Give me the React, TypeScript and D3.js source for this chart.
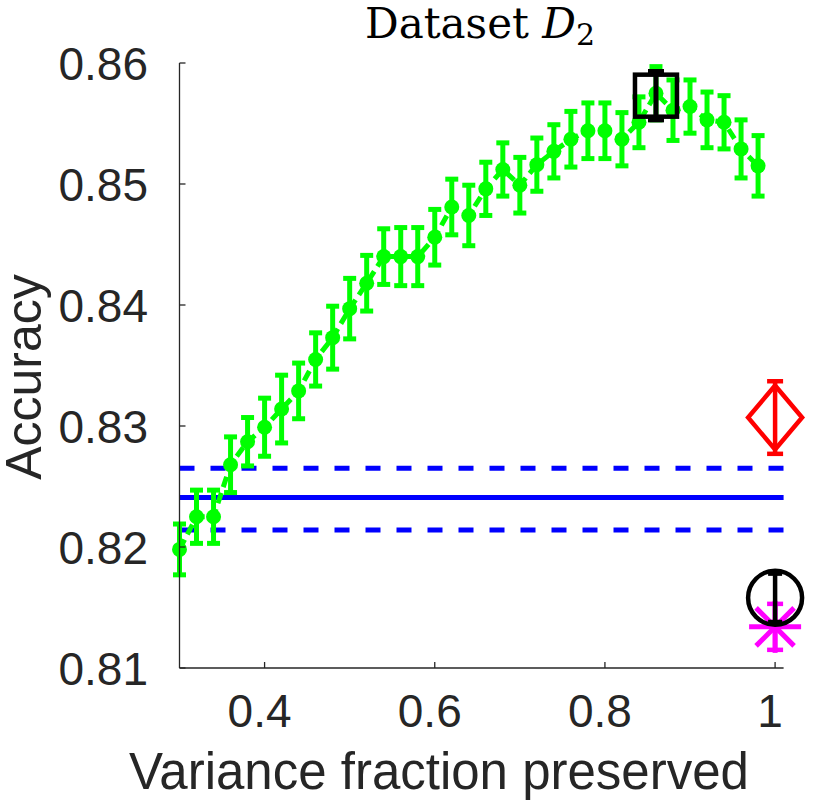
import * as d3 from "d3";

// green series: accuracy vs variance fraction preserved
const fractions = [
  0.3, 0.32, 0.34, 0.36, 0.38, 0.4, 0.42, 0.44, 0.46, 0.48, 0.5, 0.52, 0.54,
  0.56, 0.58, 0.6, 0.62, 0.64, 0.66, 0.68, 0.7, 0.72, 0.74, 0.76, 0.78, 0.8,
  0.82, 0.84, 0.86, 0.88, 0.9, 0.92, 0.94, 0.96, 0.98,
];
const accuracy = [
  0.8198, 0.8225, 0.8225, 0.8268, 0.8287, 0.8299, 0.8314, 0.8329, 0.8355,
  0.8373, 0.8397, 0.8418, 0.844, 0.844, 0.844, 0.8456, 0.8481, 0.8474, 0.8496,
  0.8512, 0.8499, 0.8516, 0.8527, 0.8537, 0.8544, 0.8544, 0.8537, 0.8551,
  0.8575, 0.8561, 0.8564, 0.8553, 0.8551, 0.8529, 0.8515,
];
const accuracyErr = [
  0.0021, 0.0022, 0.0022, 0.0023, 0.002, 0.0024, 0.0028, 0.0023, 0.0022,
  0.0026, 0.0025, 0.0023, 0.0023, 0.0024, 0.0024, 0.0023, 0.0023, 0.0025,
  0.0022, 0.0022, 0.0023, 0.0022, 0.0022, 0.0023, 0.0023, 0.0023, 0.0022,
  0.0021, 0.0022, 0.0025, 0.0022, 0.0023, 0.0022, 0.0024, 0.0025,
];

// baseline (blue): mean and +/- band
const baseline = { mean: 0.8241, upper: 0.8265, lower: 0.8214 };

// single-point methods
const bestPoint = { x: 0.86, y: 0.8573, err: 0.002 }; // black square
const diamondPoint = { x: 1.0, y: 0.8307, err: 0.003 }; // red diamond
const circlePoint = { x: 1.0, y: 0.8158, err: 0.002 }; // black circle
const starPoint = { x: 1.0, y: 0.8134, err: 0.0019 }; // magenta asterisk

const xTicks = [0.4, 0.6, 0.8, 1];
const yTicks = [0.81, 0.82, 0.83, 0.84, 0.85, 0.86];

const width = 830;
const height = 800;
const axisColor = "#262626";
const font = "'Liberation Sans', Arial, Helvetica, sans-serif";

const x = d3.scaleLinear().domain([0.3, 1.01]).range([179.5, 783.6]);
const y = d3.scaleLinear().domain([0.81, 0.86]).range([668, 63]);

const ErrBar = (props: { cx: number; cy: number; err: number; color: string; w: number; cap: number }) => {
  const top = y(props.cy + props.err);
  const bot = y(props.cy - props.err);
  const px = x(props.cx);
  return (
    <g stroke={props.color} strokeWidth={props.w}>
      <line x1={px} x2={px} y1={top} y2={bot} />
      <line x1={px - props.cap / 2} x2={px + props.cap / 2} y1={top} y2={top} />
      <line x1={px - props.cap / 2} x2={px + props.cap / 2} y1={bot} y2={bot} />
    </g>
  );
};

export default function App() {
  const pts = fractions.map((f, i) => ({ f, a: accuracy[i], e: accuracyErr[i] }));
  const line = d3
    .line<{ f: number; a: number }>()
    .x((d) => x(d.f))
    .y((d) => y(d.a));

  const [x0, x1] = x.range();
  const [yb, yt] = y.range();

  const sq = 42;
  const star = { cx: x(starPoint.x), cy: y(starPoint.y), r: 26 };
  const dia = { cx: x(diamondPoint.x), cy: y(diamondPoint.y) };

  return (
    <svg
      width={width}
      height={height}
      viewBox={`0 0 ${width} ${height}`}
      style={{ position: "absolute", left: 0, top: 0, background: "#fff" }}
    >
      {/* title */}
      <text
        x={480}
        y={38}
        textAnchor="middle"
        fontFamily="'DejaVu Serif', 'Liberation Serif', serif"
        fontSize={42}
        fill="#000"
      >
        Dataset <tspan fontStyle="italic">D</tspan>
        <tspan fontSize={30} dy={7}>2</tspan>
      </text>

      {/* baseline band */}
      <g stroke="#0000ff" strokeWidth={5}>
        <line x1={x0} x2={x1} y1={y(baseline.mean)} y2={y(baseline.mean)} />
        <line x1={x0} x2={x1} y1={y(baseline.upper)} y2={y(baseline.upper)} strokeDasharray="15 16" />
        <line x1={x0} x2={x1} y1={y(baseline.lower)} y2={y(baseline.lower)} strokeDasharray="15 16" />
      </g>

      {/* green series */}
      <path d={line(pts) ?? ""} fill="none" stroke="#00ff00" strokeWidth={5} strokeDasharray="11 6" />
      {pts.map((d, i) => (
        <ErrBar key={"e" + i} cx={d.f} cy={d.a} err={d.e} color="#00ff00" w={5} cap={13} />
      ))}
      {pts.map((d, i) => (
        <circle key={"c" + i} cx={x(d.f)} cy={y(d.a)} r={7.5} fill="#00ff00" />
      ))}

      {/* black square */}
      <rect
        x={x(bestPoint.x) - sq / 2}
        y={y(bestPoint.y) - sq / 2}
        width={sq}
        height={sq}
        fill="none"
        stroke="#000"
        strokeWidth={4.5}
      />
      <ErrBar cx={bestPoint.x} cy={bestPoint.y} err={bestPoint.err} color="#000" w={5} cap={16} />

      {/* red diamond */}
      <path
        d={`M${dia.cx},${dia.cy - 32}L${dia.cx + 27},${dia.cy}L${dia.cx},${dia.cy + 32}L${dia.cx - 27},${dia.cy}Z`}
        fill="none"
        stroke="#ff0000"
        strokeWidth={4.5}
      />
      <ErrBar cx={diamondPoint.x} cy={diamondPoint.y} err={diamondPoint.err} color="#ff0000" w={4.5} cap={16} />

      {/* magenta asterisk */}
      <g stroke="#ff00ff" strokeWidth={5}>
        <line x1={star.cx - star.r} x2={star.cx + star.r} y1={star.cy} y2={star.cy} />
        <line x1={star.cx - 19} x2={star.cx + 19} y1={star.cy - 19} y2={star.cy + 19} />
        <line x1={star.cx - 19} x2={star.cx + 19} y1={star.cy + 19} y2={star.cy - 19} />
        <line x1={star.cx} x2={star.cx} y1={star.cy - star.r} y2={star.cy + star.r} />
      </g>
      <ErrBar cx={starPoint.x} cy={starPoint.y} err={starPoint.err} color="#ff00ff" w={4.5} cap={16} />

      {/* black circle */}
      <circle cx={x(circlePoint.x)} cy={y(circlePoint.y)} r={27} fill="none" stroke="#000" strokeWidth={4.5} />
      <ErrBar cx={circlePoint.x} cy={circlePoint.y} err={circlePoint.err} color="#000" w={4.5} cap={14} />

      {/* axes */}
      <g stroke={axisColor} strokeWidth={1.3} fill="none">
        <line x1={x0} x2={x0} y1={yb} y2={yt} />
        <line x1={x0} x2={x1} y1={yb} y2={yb} />
        {yTicks.map((t) => (
          <line key={"yt" + t} x1={x0} x2={x0 + 6} y1={y(t)} y2={y(t)} />
        ))}
        {xTicks.map((t) => (
          <line key={"xt" + t} x1={x(t)} x2={x(t)} y1={yb} y2={yb - 6} />
        ))}
      </g>
      <g fontFamily={font} fontSize={46} fill={axisColor}>
        {yTicks.map((t) => (
          <text key={"yl" + t} x={148} y={y(t) + 16.5} textAnchor="end">
            {d3.format(".2f")(t)}
          </text>
        ))}
        {xTicks.map((t) => (
          <text key={"xl" + t} x={x(t) - 5} y={727} textAnchor="middle">
            {t === 1 ? "1" : d3.format(".1f")(t)}
          </text>
        ))}
      </g>
      <text x={439} y={789} textAnchor="middle" fontFamily={font} fontSize={51} fill={axisColor}>
        Variance fraction preserved
      </text>
      <text
        transform={`translate(41, 377) rotate(-90)`}
        textAnchor="middle"
        fontFamily={font}
        fontSize={50}
        fill={axisColor}
      >
        Accuracy
      </text>
    </svg>
  );
}
